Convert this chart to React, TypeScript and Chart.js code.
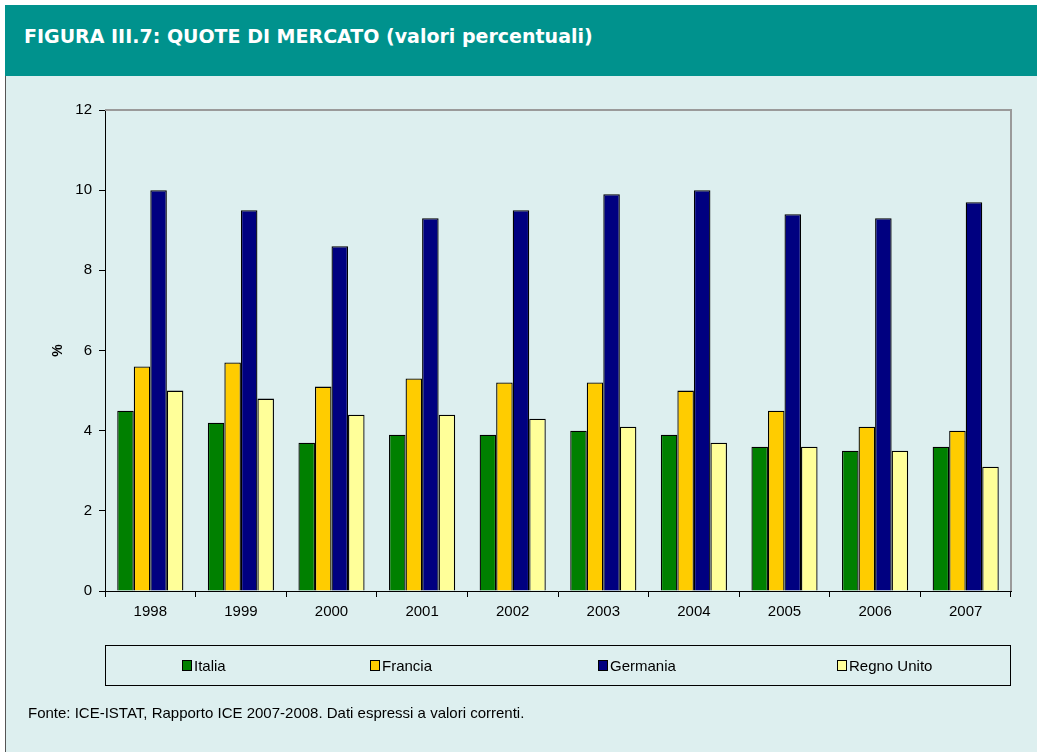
import React, { useEffect, useRef } from "react";
import { Chart, registerables } from "chart.js";

Chart.register(...registerables);

const years = ["1998", "1999", "2000", "2001", "2002", "2003", "2004", "2005", "2006", "2007"];
const italia = [4.5, 4.2, 3.7, 3.9, 3.9, 4.0, 3.9, 3.6, 3.5, 3.6];
const francia = [5.6, 5.7, 5.1, 5.3, 5.2, 5.2, 5.0, 4.5, 4.1, 4.0];
const germania = [10.0, 9.5, 8.6, 9.3, 9.5, 9.9, 10.0, 9.4, 9.3, 9.7];
const regnoUnito = [5.0, 4.8, 4.4, 4.4, 4.3, 4.1, 3.7, 3.6, 3.5, 3.1];

const seriesNames = ["Italia", "Francia", "Germania", "Regno Unito"];
const seriesColors = ["#008000", "#FFCC00", "#000080", "#FFFF99"];
const legendLefts = [181, 369, 597, 836];

const FONT = "'Liberation Sans', Arial, sans-serif";

const frameLines = {
  id: "frameLines",
  afterDraw(chart: any) {
    const { ctx, chartArea } = chart;
    ctx.save();
    ctx.strokeStyle = "#9a9a9a";
    ctx.lineWidth = 2;
    ctx.beginPath();
    ctx.moveTo(chartArea.left, chartArea.top);
    ctx.lineTo(chartArea.right, chartArea.top);
    ctx.lineTo(chartArea.right, chartArea.bottom);
    ctx.stroke();
    ctx.restore();
  },
};

export default function App() {
  const ref = useRef<HTMLCanvasElement>(null);
  useEffect(() => {
    if (!ref.current) return;
    const data = [italia, francia, germania, regnoUnito];
    const chart = new Chart(ref.current, {
      type: "bar",
      data: {
        labels: years,
        datasets: data.map((d, i) => ({
          label: seriesNames[i],
          data: d,
          backgroundColor: seriesColors[i],
          borderColor: "#000",
          borderWidth: 1.3,
          barPercentage: 1,
          categoryPercentage: 0.73,
        })),
      },
      options: {
        animation: false,
        responsive: false,
        maintainAspectRatio: false,
        layout: { padding: { top: 34, right: 26, left: 0, bottom: 0 } },
        plugins: { legend: { display: false }, tooltip: { enabled: false } },
        scales: {
          x: {
            grid: { offset: true, drawOnChartArea: false, drawTicks: true, tickLength: 6, color: "#000" },
            border: { color: "#000", width: 1 },
            ticks: { color: "#000", font: { family: FONT, size: 15 }, padding: 6, maxRotation: 0 },
            afterFit: (s: any) => { s.height = 161; },
          },
          y: {
            min: 0,
            max: 12,
            ticks: { stepSize: 2, color: "#000", font: { family: FONT, size: 15 }, padding: 7 },
            grid: { drawOnChartArea: false, drawTicks: true, tickLength: 6, color: "#000" },
            border: { color: "#000", width: 1 },
            title: { display: true, text: "%", color: "#000", font: { family: FONT, size: 14, weight: "bold" }, padding: { top: 45, bottom: 0 } },
            afterFit: (s: any) => { s.width = 100; },
          },
        },
      },
      plugins: [frameLines],
    } as any);
    return () => chart.destroy();
  }, []);

  return (
    <div style={{ position: "absolute", left: 0, top: 0, width: 1037, height: 752, background: "#fff", overflow: "hidden" }}>
      <div style={{ position: "absolute", left: 5, top: 5, width: 1032, height: 71, background: "#00928D", color: "#fff", fontFamily: "'DejaVu Sans', sans-serif", fontWeight: 700, fontSize: 19, lineHeight: "62px", paddingLeft: 19, boxSizing: "border-box", whiteSpace: "nowrap" }}>
        FIGURA III.7: QUOTE DI MERCATO (valori percentuali)
      </div>
      <div style={{ position: "absolute", left: 5, top: 76, width: 1032, height: 676, background: "#DDEFEF", borderLeft: "1px solid #555", boxSizing: "border-box" }} />
      <canvas ref={ref} width={1032} height={676} style={{ position: "absolute", left: 5, top: 76, width: 1032, height: 676 }} />
      <div style={{ position: "absolute", left: 105, top: 645, width: 906, height: 41, border: "1px solid #000", boxSizing: "border-box", fontFamily: FONT, fontSize: 15, color: "#000" }}>
        {seriesNames.map((n, i) => (
          <div key={n} style={{ position: "absolute", left: legendLefts[i] - 105, top: 10, height: 18, display: "flex", alignItems: "center", whiteSpace: "nowrap" }}>
            <span style={{ display: "inline-block", width: 8, height: 9, background: seriesColors[i], border: "1px solid #000", marginRight: 2 }} />
            {n}
          </div>
        ))}
      </div>
      <div style={{ position: "absolute", left: 28, top: 704, fontFamily: FONT, fontSize: 15, color: "#000", whiteSpace: "nowrap" }}>
        Fonte: ICE-ISTAT, Rapporto ICE 2007-2008. Dati espressi a valori correnti.
      </div>
    </div>
  );
}
